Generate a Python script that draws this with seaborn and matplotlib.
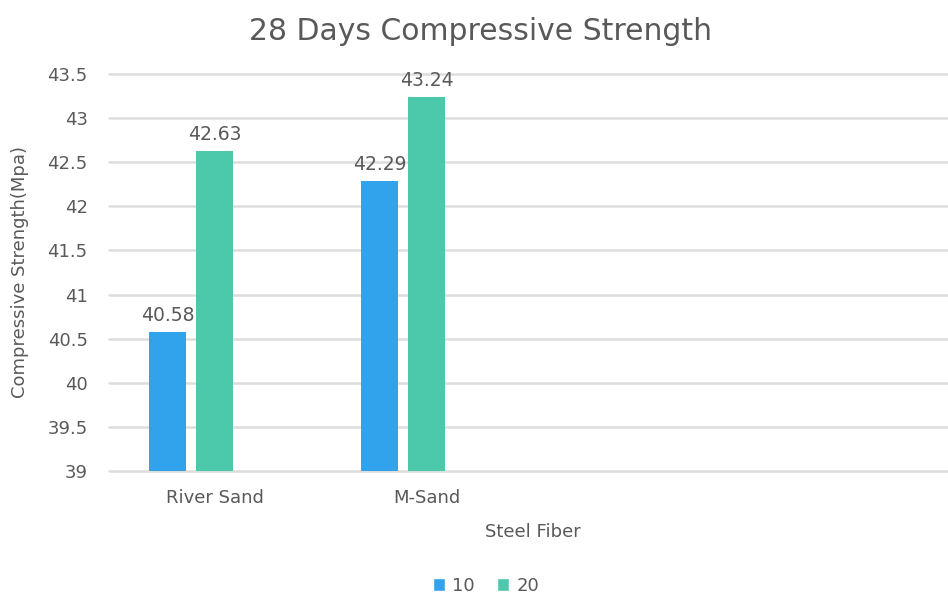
import matplotlib
matplotlib.use("Agg")
import matplotlib.pyplot as plt
from matplotlib.patches import Patch
import seaborn as sns
import pandas as pd

# Compressive strength at 28 days (MPa) by sand type and steel fibre content
sand_types = ["River Sand", "M-Sand"]
fiber_levels = ["10", "20"]
strength_10 = [40.58, 42.29]
strength_20 = [42.63, 43.24]
y_ticks = [39, 39.5, 40, 40.5, 41, 41.5, 42, 42.5, 43, 43.5]

blue = "#31A3EC"
green = "#4CC9AB"
text_col = "#595959"
grid_col = "#DDDDDD"

df = pd.DataFrame({
    "sand": sand_types * 2,
    "fiber": [fiber_levels[0]] * len(sand_types) + [fiber_levels[1]] * len(sand_types),
    "strength": strength_10 + strength_20,
})

sns.set_theme(style="white")
plt.rcParams["font.family"] = ["DejaVu Sans"]

fig = plt.figure(figsize=(9.48, 5.97), dpi=100)
ax = fig.add_axes([108.5 / 948, 126 / 597, 848 / 948, 397 / 597])

# a third, empty slot is kept in each group so bars sit left of the category centre
hue_order = fiber_levels + ["30"]
sns.barplot(data=df, x="sand", y="strength", hue="fiber", hue_order=hue_order,
            order=sand_types, palette=[blue, green, "#A5A5A5"],
            width=0.665, gap=0.21, errorbar=None, legend=False,
            saturation=1, linewidth=0, ax=ax)

for cont in ax.containers:
    ax.bar_label(cont, fmt="%.2f", padding=5, fontsize=13.5, color=text_col)

ax.set_xlim(-0.5, 3.5)
ax.set_ylim(39, 43.5)
ax.set_yticks(y_ticks)
ax.set_yticklabels([f"{t:g}" for t in y_ticks])
ax.yaxis.grid(True, color=grid_col, linewidth=1.8)
ax.set_axisbelow(True)
for line in ax.get_ygridlines():
    line.set_clip_on(False)
for s in ax.spines.values():
    s.set_visible(False)
ax.tick_params(axis="y", length=0, pad=15, labelsize=13, labelcolor=text_col)
ax.tick_params(axis="x", length=0, pad=13, labelsize=13, labelcolor=text_col)

ax.set_xlabel("")
ax.set_ylabel("")
fig.text(20 / 948, 1 - 272 / 597, "Compressive Strength(Mpa)", rotation=90,
         ha="center", va="center", fontsize=13, color=text_col)
fig.text(533 / 948, 1 - 532 / 597, "Steel Fiber", ha="center", va="center",
         fontsize=13, color=text_col)
fig.text(480 / 948, 1 - 31 / 597, "28 Days Compressive Strength", ha="center",
         va="center", fontsize=21.5, color=text_col)

handles = [Patch(facecolor=blue, label=fiber_levels[0]),
           Patch(facecolor=green, label=fiber_levels[1])]
fig.legend(handles=handles, loc="center", bbox_to_anchor=(486 / 948, 1 - 586 / 597),
           ncol=2, frameon=False, fontsize=13, labelcolor=text_col,
           handlelength=0.7, handleheight=0.7, handletextpad=0.4, columnspacing=1.2)

fig.savefig("out.png", dpi=100)
